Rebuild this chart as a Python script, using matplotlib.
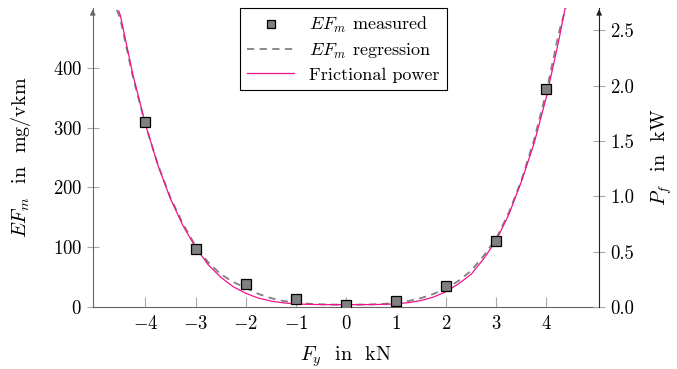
import matplotlib
matplotlib.use("Agg")
import matplotlib.pyplot as plt

plt.rcParams["font.family"] = "serif"
plt.rcParams["font.serif"] = ["cmr10"]
plt.rcParams["mathtext.fontset"] = "cm"
plt.rcParams["axes.formatter.use_mathtext"] = True

# measured emission factor
force = [-4, -3, -2, -1, 0, 1, 2, 3, 4]
ef_measured = [310, 97, 38, 13, 3, 10, 35, 111, 365]

# regression curve
reg_x = [-4.57, -4.5, -4.25, -4.0, -3.75, -3.5, -3.25, -3.0, -2.75, -2.5, -2.25, -2.0,
         -1.75, -1.5, -1.25, -1.0, -0.75, -0.5, -0.25, 0.0, 0.25, 0.5, 0.75, 1.0,
         1.25, 1.5, 1.75, 2.0, 2.25, 2.5, 2.75, 3.0, 3.25, 3.5, 3.75, 4.0, 4.25, 4.45]
reg_y = [497, 482, 385, 305, 238, 183, 139, 102, 75, 55, 42, 32,
         22, 15, 10, 7.5, 5.5, 4.5, 4.0, 4.0, 4.0, 4.3, 5.2, 7,
         10, 15, 22, 31, 44, 61, 86, 115, 158, 212, 279, 361, 460, 520]

# frictional power curve (mg/vkm scale)
fric_x = [-4.53, -4.5, -4.25, -4.0, -3.75, -3.5, -3.25, -3.0, -2.75, -2.5, -2.25, -2.0,
          -1.75, -1.5, -1.25, -1.0, -0.75, -0.5, -0.25, 0.0, 0.25, 0.5, 0.75, 1.0,
          1.25, 1.5, 1.75, 2.0, 2.25, 2.5, 2.75, 3.0, 3.25, 3.5, 3.75, 4.0, 4.25, 4.43]
fric_y = [495, 488, 389, 306, 237, 181, 136, 100, 71, 50, 34, 23,
          15, 10, 6.9, 5.2, 4.4, 4.1, 4.0, 4.0, 4.0, 4.1, 4.4, 5.4,
          7.3, 10.9, 16.8, 25.8, 39, 55, 81, 112, 155, 210, 273, 352, 448, 525]

fig = plt.figure(figsize=(6.77, 3.69), dpi=100)
ax = fig.add_axes([0.137, 0.168, 0.748, 0.81])

ax.plot(reg_x, reg_y, color="#808080", lw=1.3, dashes=(4, 3), label=r"$EF_m$ regression")
ax.plot(fric_x, fric_y, color="#f0148c", lw=0.9, label="Frictional power")
ax.plot(force, ef_measured, ls="none", marker="s", ms=7.5, mfc="#808080", mec="black",
        mew=0.9, label=r"$EF_m$ measured", zorder=5)

ax.set_xlim(-5.05, 5.05)
ax.set_ylim(0, 500)
ax.set_xticks([-4, -3, -2, -1, 0, 1, 2, 3, 4])
ax.set_yticks([0, 100, 200, 300, 400])
ax.set_xlabel(r"$F_y$  in  kN", fontsize=14.5, labelpad=8)
ax.set_ylabel(r"$EF_m$  in  mg/vkm", fontsize=14.5, labelpad=14)

ax.spines["top"].set_visible(False)
ax.spines["right"].set_visible(False)
ax.spines["left"].set_color("#666666")
ax.spines["bottom"].set_color("#666666")
ax.tick_params(axis="x", direction="in", length=7.5, color="#aaaaaa", labelsize=13.5, pad=6)
ax.tick_params(axis="y", direction="inout", length=8.4, color="#aaaaaa", labelsize=13.5)

ax2 = ax.twinx()
ax2.set_ylim(0, 2.7)
ax2.set_yticks([0.0, 0.5, 1.0, 1.5, 2.0, 2.5])
ax2.set_yticklabels(["0.0", "0.5", "1.0", "1.5", "2.0", "2.5"])
ax2.set_ylabel(r"$P_f$  in  kW", fontsize=14.5, labelpad=11)
for s in ["top", "left", "bottom"]:
    ax2.spines[s].set_visible(False)
ax2.spines["right"].set_color("#222222")
ax2.tick_params(axis="y", direction="inout", length=8.9, color="#aaaaaa", labelsize=13.5)

# arrow heads on top of the y axes
for xpos, col in [(0, "#666666"), (1, "#222222")]:
    ax.annotate("", xy=(xpos, 1.005), xytext=(xpos, 0.97), xycoords="axes fraction",
                arrowprops=dict(arrowstyle="-|>", color=col, lw=0.8, mutation_scale=8),
                annotation_clip=False)

handles, labels = ax.get_legend_handles_labels()
order = [2, 0, 1]
leg = ax.legend([handles[i] for i in order], [labels[i] for i in order],
                loc="upper center", bbox_to_anchor=(0.495, 1.0), borderaxespad=0,
                fontsize=13, fancybox=False, framealpha=1, edgecolor="black",
                handlelength=2.6, labelspacing=0.35, borderpad=0.4, markerscale=0.7)
leg.get_frame().set_linewidth(0.8)

fig.savefig("out.png", dpi=100)
